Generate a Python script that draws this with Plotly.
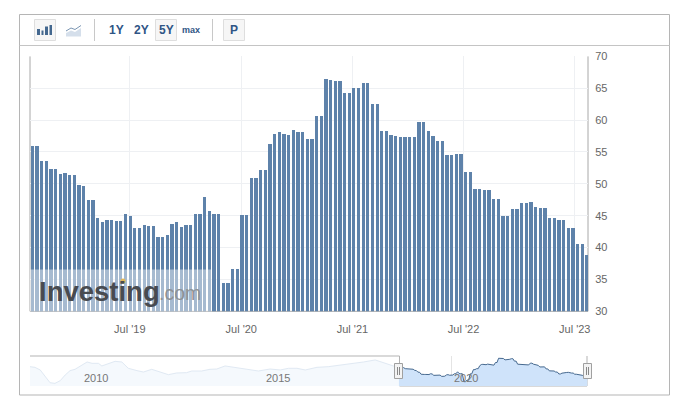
import datetime as dt
import plotly.graph_objects as go

W, H = 674, 396

# Main bars: 120 half-monthly observations, Aug 2018 to Aug 2023
values = [
    55.9, 55.8, 53.6, 53.6, 52.2, 52.2, 51.5, 51.7, 51.4, 51.4,
    49.8, 49.6, 47.4, 47.4, 44.6, 44.0, 44.3, 44.3, 44.15, 44.15,
    45.25, 44.9, 43.05, 43.05, 43.5, 43.4, 43.4, 41.6, 41.6, 41.9,
    43.7, 44.0, 43.2, 43.5, 43.5, 45.25, 45.25, 47.9, 45.6, 45.25,
    45.25, 34.4, 34.4, 36.5, 36.5, 45.1, 45.1, 50.9, 50.9, 52.15,
    52.15, 56.2, 57.8, 58.1, 57.8, 57.6, 58.4, 58.1, 58.1, 57.0,
    57.0, 60.6, 60.6, 66.4, 66.25, 66.1, 66.1, 64.2, 64.2, 65.0,
    65.0, 65.8, 65.8, 62.5, 62.5, 58.3, 58.3, 57.6, 57.5, 57.3,
    57.3, 57.3, 57.3, 59.7, 59.7, 58.3, 57.5, 56.7, 56.7, 54.5,
    54.5, 54.65, 54.65, 51.85, 51.85, 49.2, 49.2, 49.0, 49.0, 47.6,
    47.6, 44.95, 44.95, 46.05, 46.05, 47.0, 47.0, 47.15, 46.35, 46.2,
    46.2, 44.6, 44.6, 44.3, 44.3, 43.05, 43.05, 40.55, 40.55, 38.7,
]
first_date = dt.datetime(2018, 8, 15)
step_days = 15.3
dates = [first_date + dt.timedelta(days=step_days * i) for i in range(len(values))]

y_ticks = [30, 35, 40, 45, 50, 55, 60, 65, 70]
x_ticks = ["2019-07-01", "2020-07-01", "2021-07-01", "2022-07-01", "2023-07-01"]

# Navigator history before the selected window
hist_years = [
    2008.86, 2008.99, 2009.13, 2009.26, 2009.39, 2009.52, 2009.66, 2009.79, 2009.92, 2010.05,
    2010.19, 2010.37, 2010.5, 2010.67, 2010.76, 2010.93, 2011.11, 2011.29, 2011.46, 2011.69,
    2011.86, 2012.08, 2012.3, 2012.52, 2012.74, 2013.0, 2013.14, 2013.4, 2013.62, 2013.8,
    2014.02, 2014.24, 2014.6, 2014.9, 2015.21, 2015.48, 2015.7, 2015.92, 2016.14, 2016.45,
    2016.75, 2017.06, 2017.42, 2017.68, 2017.99, 2018.21, 2018.47, 2018.63,
]
hist_values = [
    54.9, 54.0, 50.4, 42.2, 33.0, 32.1, 35.8, 43.5, 49.5, 51.3,
    55.9, 61.3, 59.5, 59.5, 55.9, 59.5, 62.2, 61.3, 52.7, 49.5,
    47.6, 51.3, 47.2, 44.0, 46.3, 46.7, 49.0, 49.0, 51.3, 51.7,
    55.9, 54.0, 51.3, 49.0, 51.7, 50.4, 52.7, 52.7, 50.4, 54.0,
    54.9, 56.8, 59.5, 61.3, 64.1, 60.4, 55.9, 54.9,
]
nav_labels = ["2010", "2015", "2020"]
nav_label_pos = [2010.6, 2015.42, 2020.4]


def fx(px):
    return px / W


def fy(px):
    return 1 - px / H


def frac_year(d):
    return d.year + (d.timetuple().tm_yday - 1) / 365.0


PL, PR = 30, 588
PT, PB = 56.4, 311.3
NT, NB = 356, 386
BAR = "#5e82aa"
FONT = "Liberation Sans, Arial, sans-serif"

i_left = (PL - 32.3) / 4.66
i_right = (PR - 32.3) / 4.66
x_left = first_date + dt.timedelta(days=step_days * i_left)
x_right = first_date + dt.timedelta(days=step_days * i_right)

fig = go.Figure()
fig.add_trace(go.Bar(
    x=dates, y=values, marker=dict(color=BAR, line=dict(width=0)),
    width=[10.8 * 86400000] * len(values), xaxis="x", yaxis="y",
))
fig.add_trace(go.Scatter(
    x=hist_years, y=hist_values, mode="lines", fill="tozeroy",
    fillcolor="#f5f9fd", line=dict(color="#e0e9f3", width=1), xaxis="x2", yaxis="y2",
))
fig.add_trace(go.Scatter(
    x=[frac_year(d) for d in dates], y=values, mode="lines", fill="tozeroy",
    fillcolor="#cfe3fa", line=dict(color="#46698f", width=1), xaxis="x2", yaxis="y2",
))

shapes = []


def rect(x0, y0, x1, y1, line="#b3b3b3", fill=None, lw=1, layer="below"):
    shapes.append(dict(type="rect", xref="paper", yref="paper",
                       x0=fx(x0), x1=fx(x1), y0=fy(y0), y1=fy(y1),
                       line=dict(color=line, width=lw), fillcolor=fill or "rgba(0,0,0,0)",
                       layer=layer))


def seg(x0, y0, x1, y1, color="#b3b3b3", lw=1, layer="below"):
    shapes.append(dict(type="line", xref="paper", yref="paper",
                       x0=fx(x0), x1=fx(x1), y0=fy(y0), y1=fy(y1),
                       line=dict(color=color, width=lw), layer=layer))


# Frame and toolbar
rect(19.5, 14.5, 669.5, 395, line="#b5b5b5")
seg(19.5, 45.5, 669.5, 45.5, color="#c4c4c4")
seg(94.5, 19, 94.5, 41, color="#c8c8c8")
seg(212.5, 19, 212.5, 41, color="#c8c8c8")
rect(34.5, 19.5, 55.5, 40.5, line="#dedede", fill="#f6f6f6")
rect(155.5, 19.5, 176.5, 40.5, line="#dedede", fill="#f6f6f6")
rect(223.5, 19.5, 244.5, 40.5, line="#dedede", fill="#f6f6f6")

# Bar icon
for (a, b, top) in [(37, 40, 29), (41.5, 43.5, 30.5), (45, 48, 26.5), (49.5, 52, 25)]:
    rect(a, top, b, 35, line="rgba(0,0,0,0)", fill="#44688f", lw=0)
# Line icon: pale area with a separate line above it
area = "M {} {} L {} {} L {} {} L {} {} L {} {} L {} {} Z".format(
    fx(66), fy(36.5), fx(66), fy(33), fx(71), fy(30.5), fx(75), fy(32), fx(81), fy(28), fx(81), fy(36.5))
shapes.append(dict(type="path", xref="paper", yref="paper", path=area,
                   fillcolor="#d5dfeb", line=dict(width=0), layer="below"))
trend = "M {} {} L {} {} L {} {} L {} {}".format(
    fx(66), fy(31), fx(71), fy(28), fx(75), fy(29.5), fx(81), fy(25.5))
shapes.append(dict(type="path", xref="paper", yref="paper", path=trend,
                   line=dict(color="#7b96b3", width=1), layer="below"))

# Main plot borders
seg(PL, PT, PL, PB, color="#a8a8a8")
seg(PR, PT, PR, PB, color="#a8a8a8")
seg(PL, PB, PR, PB, color="#a8a8a8")

# Watermark veil and logo dot
rect(PL, 269.5, 211.7, 311.5, line="rgba(0,0,0,0)", fill="rgba(255,255,255,0.45)", lw=0, layer="above")
shapes.append(dict(type="circle", xref="paper", yref="paper",
                   x0=fx(120.5), x1=fx(125.5), y0=fy(278.5), y1=fy(283.5),
                   fillcolor="#e3b658", line=dict(width=0), layer="above"))

# Navigator
seg(PL, NT, 399.5, NT, color="#b3b3b3")
seg(399.5, NT, 399.5, NB, color="#b3b3b3")
seg(399.5, NB, 587, NB, color="#b3b3b3")
seg(587, NT, 587, NB, color="#b3b3b3")
for (a, b) in [(394.5, 402.5), (583.5, 591.5)]:
    rect(a, 363.5, b, 378.5, line="#a0a0a0", fill="#f3f3f3", layer="above")
    seg(a + 3, 367, a + 3, 375, color="#888888", layer="above")
    seg(a + 5, 367, a + 5, 375, color="#888888", layer="above")

annotations = []


def text(x, y, s, size=12, color="#2f5585", bold=False, anchor="center"):
    annotations.append(dict(xref="paper", yref="paper", x=fx(x), y=fy(y), text=f"<b>{s}</b>" if bold else s,
                            showarrow=False, xanchor=anchor, yanchor="middle",
                            font=dict(family=FONT, size=size, color=color)))


text(116.5, 30, "1Y", bold=True)
text(141, 30, "2Y", bold=True)
text(166, 30, "5Y", bold=True)
text(190.5, 30, "max", size=9, bold=True)
text(234, 30, "P", bold=True)

annotations.append(dict(xref="paper", yref="paper", x=fx(37), y=fy(291), text="<b>Investing</b>",
                        showarrow=False, xanchor="left", yanchor="middle",
                        font=dict(family=FONT, size=27.5, color="#484b50")))
annotations.append(dict(xref="paper", yref="paper", x=fx(156.5), y=fy(293), text=".com",
                        showarrow=False, xanchor="left", yanchor="middle",
                        font=dict(family=FONT, size=19.5, color="#8f9295")))

for lab, pos in zip(nav_labels, nav_label_pos):
    annotations.append(dict(xref="x2", yref="paper", x=pos, y=fy(378), text=lab, showarrow=False,
                            xanchor="center", yanchor="middle",
                            font=dict(family=FONT, size=11, color="#777777")))

fig.update_layout(
    width=W, height=H, autosize=False, showlegend=False, bargap=0,
    margin=dict(l=0, r=0, t=0, b=0, pad=0, autoexpand=False), paper_bgcolor="white", plot_bgcolor="white",
    xaxis=dict(domain=[fx(PL), fx(PR)], type="date", range=[x_left, x_right], anchor="y",
               tickvals=x_ticks, tickformat="%b '%y", ticks="outside", ticklen=7, automargin=False,
               tickcolor="rgba(0,0,0,0)", showgrid=True, gridcolor="#eef0f3", gridwidth=1,
               showline=False, zeroline=False, tickangle=0,
               tickfont=dict(family=FONT, size=11, color="#666666")),
    yaxis=dict(domain=[fy(PB), fy(PT)], range=[30, 70], side="right", anchor="x", automargin=False,
               tickvals=y_ticks, ticks="outside", ticklen=4, tickcolor="rgba(0,0,0,0)",
               showgrid=True, gridcolor="#eef0f3", gridwidth=1, showline=False, zeroline=False,
               tickfont=dict(family=FONT, size=11, color="#666666")),
    xaxis2=dict(domain=[fx(PL), fx(PR)], range=[2008.86, 2023.62], anchor="y2", automargin=False,
                tickvals=[2020], ticktext=[""], showgrid=True, gridcolor="#e4e4e4",
                showline=False, zeroline=False),
    yaxis2=dict(domain=[fy(NB), fy(NT)], range=[28.5, 69.5], anchor="x2", showgrid=False, automargin=False,
                showticklabels=False, showline=False, zeroline=False),
    shapes=shapes, annotations=annotations,
)

fig.write_html("out.html", config=dict(displayModeBar=False),
               post_script="document.body.style.margin='0';document.body.style.overflow='hidden';")
